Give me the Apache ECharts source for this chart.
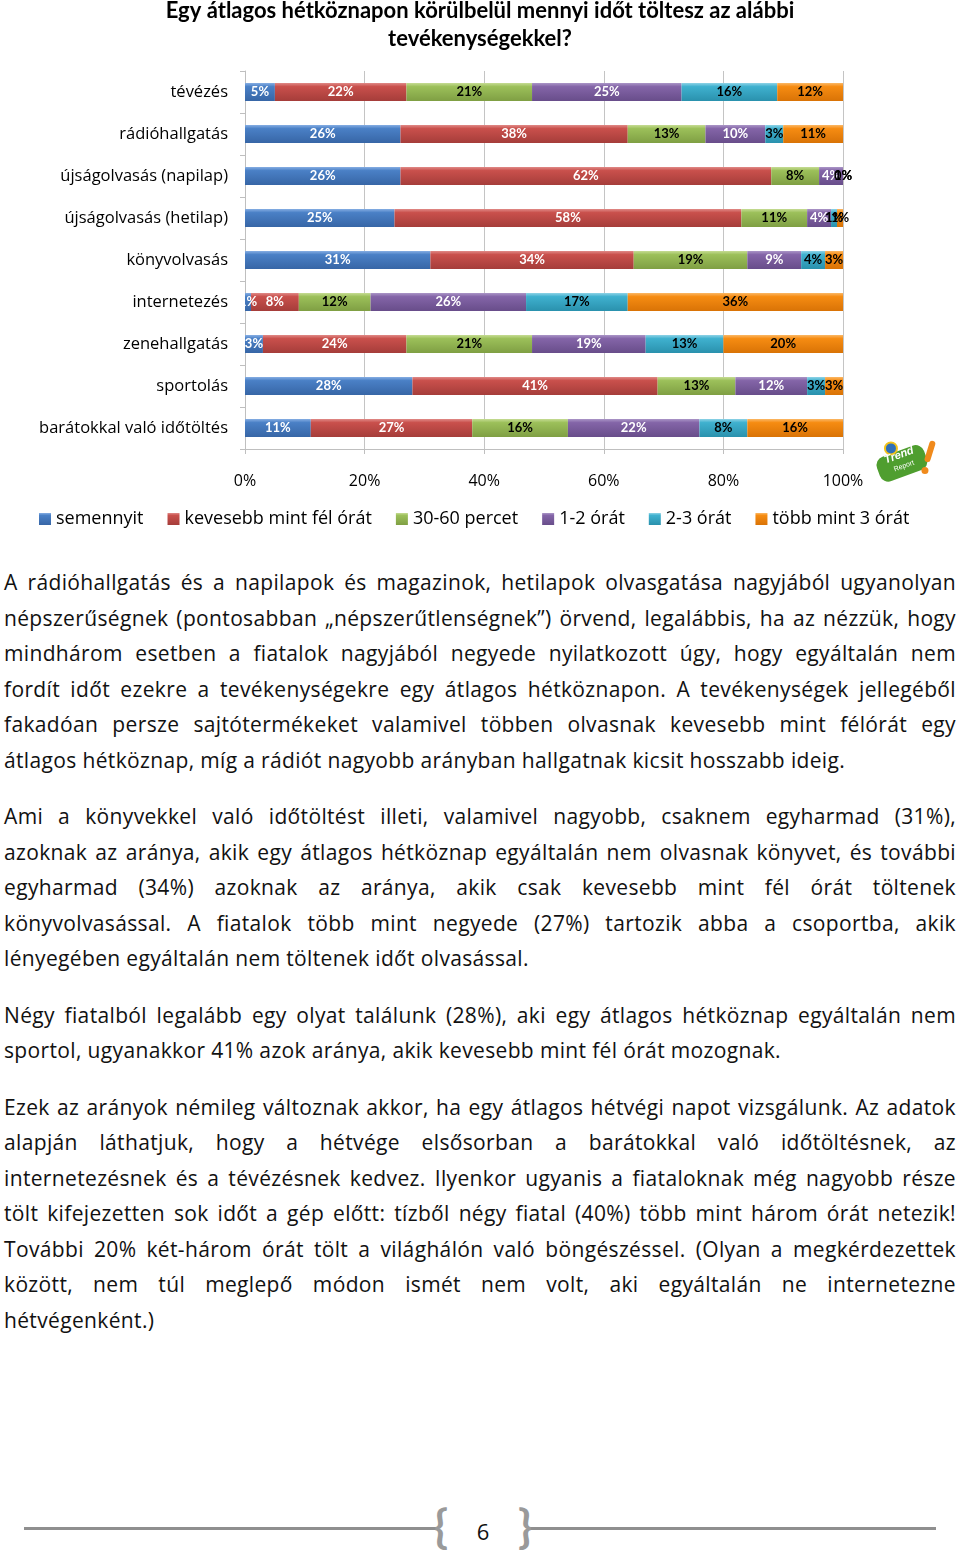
<!DOCTYPE html>
<html>
<head>
<meta charset="utf-8">
<script src="https://cdn.jsdelivr.net/npm/echarts@6/dist/echarts.min.js"></script>
<style>
  body { margin: 0; background: #fff; width: 960px; height: 1557px; position: relative; overflow: hidden; font-family: "Open Sans", sans-serif; }
  #chart { position: absolute; left: 0; top: 0; width: 960px; height: 545px; }
  #text { position: absolute; left: 4px; top: 565px; width: 952px; font-size: 21px; line-height: 35.5px; color: #111; letter-spacing: 0.35px; }
  #text p { margin: 0 0 21px 0; }
  #text span { display: block; text-align: justify; text-align-last: justify; }
  #text span.last { text-align-last: left; }
  .rule { position: absolute; top: 1527px; height: 3px; background: #8f8f8f; }
  .brace { position: absolute; top: 1496px; font-family: Lato, sans-serif; font-size: 46px; line-height: 60px; color: #9a9a9a; font-weight: bold; }
  #page { position: absolute; left: 470px; top: 1516px; width: 26px; text-align: center; font-size: 22px; line-height: 30px; color: #111; }
</style>
</head>
<body>
<div id="chart"></div>
<div id="text"></div>
<div class="rule" style="left:24px;width:414px"></div>
<div class="rule" style="left:530px;width:406px"></div>
<div class="brace" style="left:434px">{</div>
<div class="brace" style="left:518px">}</div>
<div id="page">6</div>

<script>
const titleText = 'Egy átlagos hétköznapon körülbelül mennyi időt töltesz az alábbi\ntevékenységekkel?'

const categories = [
  'tévézés',
  'rádióhallgatás',
  'újságolvasás (napilap)',
  'újságolvasás (hetilap)',
  'könyvolvasás',
  'internetezés',
  'zenehallgatás',
  'sportolás',
  'barátokkal való időtöltés'
]

const seriesNames = ['semennyit', 'kevesebb mint fél órát', '30-60 percet', '1-2 órát', '2-3 órát', 'több mint 3 órát']

// one array per answer, in the order of categories
const semennyit = [5, 26, 26, 25, 31, 1, 3, 28, 11]
const kevesebbMintFel = [22, 38, 62, 58, 34, 8, 24, 41, 27]
const perc30_60 = [21, 13, 8, 11, 19, 12, 21, 13, 16]
const ora1_2 = [25, 10, 4, 4, 9, 26, 19, 12, 22]
const ora2_3 = [16, 3, 0, 1, 4, 17, 13, 3, 8]
const tobbMint3 = [12, 11, 1, 1, 3, 36, 20, 3, 16]

const xTicks = [0, 20, 40, 60, 80, 100]

const para1 = [
  'A rádióhallgatás és a napilapok és magazinok, hetilapok olvasgatása nagyjából ugyanolyan',
  'népszerűségnek (pontosabban „népszerűtlenségnek”) örvend, legalábbis, ha az nézzük, hogy',
  'mindhárom esetben a fiatalok nagyjából negyede nyilatkozott úgy, hogy egyáltalán nem',
  'fordít időt ezekre a tevékenységekre egy átlagos hétköznapon. A tevékenységek jellegéből',
  'fakadóan persze sajtótermékeket valamivel többen olvasnak kevesebb mint félórát egy',
  'átlagos hétköznap, míg a rádiót nagyobb arányban hallgatnak kicsit hosszabb ideig.'
]
const para2 = [
  'Ami a könyvekkel való időtöltést illeti, valamivel nagyobb, csaknem egyharmad (31%),',
  'azoknak az aránya, akik egy átlagos hétköznap egyáltalán nem olvasnak könyvet, és további',
  'egyharmad (34%) azoknak az aránya, akik csak kevesebb mint fél órát töltenek',
  'könyvolvasással. A fiatalok több mint negyede (27%) tartozik abba a csoportba, akik',
  'lényegében egyáltalán nem töltenek időt olvasással.'
]
const para3 = [
  'Négy fiatalból legalább egy olyat találunk (28%), aki egy átlagos hétköznap egyáltalán nem',
  'sportol, ugyanakkor 41% azok aránya, akik kevesebb mint fél órát mozognak.'
]
const para4 = [
  'Ezek az arányok némileg változnak akkor, ha egy átlagos hétvégi napot vizsgálunk. Az adatok',
  'alapján láthatjuk, hogy a hétvége elsősorban a barátokkal való időtöltésnek, az',
  'internetezésnek és a tévézésnek kedvez. Ilyenkor ugyanis a fiataloknak még nagyobb része',
  'tölt kifejezetten sok időt a gép előtt: tízből négy fiatal (40%) több mint három órát netezik!',
  'További 20% két-három órát tölt a világhálón való böngészéssel. (Olyan a megkérdezettek',
  'között, nem túl meglepő módon ismét nem volt, aki egyáltalán ne internetezne',
  'hétvégenként.)'
]

// bar colours: [top highlight, face, bottom shade], label colour
const palette = [
  ['#86aee3', '#4a80c6', '#3766a6', '#fff'],
  ['#e08a87', '#c9504c', '#a53d3a', '#fff'],
  ['#c6dc94', '#9cc05a', '#7f9f43', '#000'],
  ['#ab96c7', '#8465a8', '#684d8a', '#fff'],
  ['#8fd3e6', '#3fb1cf', '#2a91ad', '#000'],
  ['#fbb866', '#f68c12', '#d97306', '#000']
]

function buildText() {
  const box = document.getElementById('text')
  ;[para1, para2, para3, para4].forEach(lines => {
    const p = document.createElement('p')
    lines.forEach((line, i) => {
      const s = document.createElement('span')
      s.textContent = line
      if (i == lines.length - 1) s.className = 'last'
      p.appendChild(s)
    })
    box.appendChild(p)
  })
  // a line that wraps gets its letters pulled in until it fits again
  box.querySelectorAll('span').forEach(s => {
    let ls = 0.35
    while (s.getBoundingClientRect().height > 40 && ls > -1) {
      ls -= 0.05
      s.style.letterSpacing = ls + 'px'
    }
  })
}

function barSeries(name, data, idx) {
  const c = palette[idx]
  return {
    name: name,
    type: 'bar',
    stack: 'all',
    data: data,
    barWidth: 18,
    itemStyle: {
      color: new echarts.graphic.LinearGradient(0, 0, 0, 1, [
        { offset: 0, color: c[0] },
        { offset: 0.2, color: c[1] },
        { offset: 1, color: c[2] }
      ])
    },
    label: {
      show: true,
      position: 'inside',
      formatter: p => p.value + '%',
      color: c[3],
      fontFamily: 'Lato',
      fontSize: 13,
      fontWeight: 'bold'
    }
  }
}

buildText()

const chart = echarts.init(document.getElementById('chart'))
chart.setOption({
  animation: false,
  color: palette.map(c => c[1]),
  textStyle: { fontFamily: 'Open Sans' },
  title: {
    text: titleText,
    left: 'center',
    top: -3,
    padding: 0,
    textStyle: { fontSize: 22, fontWeight: 'bold', lineHeight: 28, color: '#000', fontFamily: 'Lato' }
  },
  legend: {
    data: seriesNames,
    left: 34,
    top: 505,
    icon: 'rect',
    itemWidth: 12,
    itemHeight: 12,
    itemGap: 24,
    textStyle: { fontSize: 18, color: '#000', fontFamily: 'Open Sans' }
  },
  grid: { left: 245, right: 117, top: 71, bottom: 96 },
  xAxis: {
    type: 'value',
    min: 0,
    max: 100,
    interval: 20,
    axisLine: { show: true, lineStyle: { color: '#bfbfbf' } },
    axisTick: { show: true, length: 5, lineStyle: { color: '#bfbfbf' } },
    splitLine: { lineStyle: { color: '#c4c4c4' } },
    axisLabel: {
      margin: 24,
      fontSize: 16,
      color: '#000',
      customValues: xTicks,
      formatter: v => v + '%'
    }
  },
  yAxis: {
    type: 'category',
    inverse: true,
    data: categories,
    axisLine: { show: true, lineStyle: { color: '#bfbfbf' } },
    axisTick: { show: true, length: 5, lineStyle: { color: '#bfbfbf' } },
    axisLabel: { margin: 17, fontSize: 16.5, color: '#000' }
  },
  graphic: [
    {
      type: 'group',
      left: 874,
      top: 440,
      children: [
        { type: 'rect', shape: { x: -2, y: 12, width: 50, height: 26, r: 9 }, rotation: 0.35, originX: 23, originY: 25, style: { fill: '#4f9e2f' } },
        { type: 'circle', shape: { cx: 12, cy: 10, r: 6 }, style: { fill: '#2f6fb8', stroke: '#f2c21b', lineWidth: 2 } },
        { type: 'text', x: 4, y: 17, rotation: 0.35, style: { text: 'Trend', fill: '#fff', fontSize: 11, fontWeight: 'bold', fontStyle: 'italic' } },
        { type: 'text', x: 14, y: 28, rotation: 0.35, style: { text: 'Report', fill: '#fff', fontSize: 7 } },
        { type: 'rect', shape: { x: 48, y: 2, width: 6, height: 22, r: 3 }, rotation: -0.3, originX: 51, originY: 13, style: { fill: '#f08a1c' } },
        { type: 'circle', shape: { cx: 46, cy: 32, r: 3.5 }, style: { fill: '#f08a1c' } }
      ]
    }
  ],
  series: [
    barSeries(seriesNames[0], semennyit, 0),
    barSeries(seriesNames[1], kevesebbMintFel, 1),
    barSeries(seriesNames[2], perc30_60, 2),
    barSeries(seriesNames[3], ora1_2, 3),
    barSeries(seriesNames[4], ora2_3, 4),
    barSeries(seriesNames[5], tobbMint3, 5)
  ]
})
</script>
</body>
</html>
